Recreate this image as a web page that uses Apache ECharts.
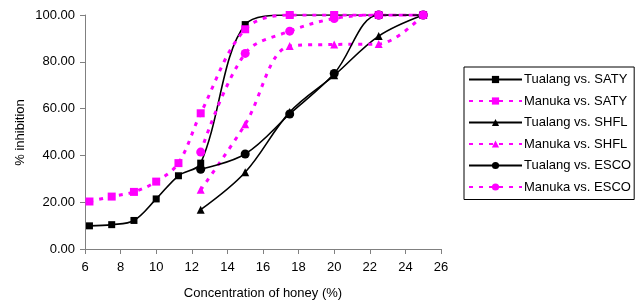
<!DOCTYPE html>
<html style="height: 100%">
<head>
    <meta charset="utf-8">
    <script src="https://cdn.jsdelivr.net/npm/echarts@6/dist/echarts.min.js"></script>
    <title>Honey inhibition</title>
</head>
<body style="height: 100%; margin: 0">
<div id="container" style="width: 641px; height: 304px"></div>
<script type="text/javascript">

    let conc = [6.25, 7.5, 8.75, 10, 11.25, 12.5, 15, 17.5, 20, 22.5, 25]
    let conc2 = [12.5, 15, 17.5, 20, 22.5, 25]

    let tualangSATY = [9.9, 10.4, 12.2, 21.4, 31.3, 36.7, 95.9, 100, 100, 100, 100]
    let manukaSATY = [20.3, 22.4, 24.4, 28.8, 36.7, 58.0, 93.9, 100, 100, 100, 100]
    let tualangSHFL = [16.8, 32.8, 58.5, 74.2, 91.0, 100]
    let manukaSHFL = [25.3, 53.3, 86.7, 87.4, 87.6, 100]
    let tualangESCO = [34.1, 40.6, 57.7, 75.0, 100, 100]
    let manukaESCO = [41.4, 83.6, 93.1, 98.5, 100, 100]

    let xTicks = [6, 8, 10, 12, 14, 16, 18, 20, 22, 24, 26]
    let yTicks = [0, 20, 40, 60, 80, 100]

    let font = 'Liberation Sans, Arial, sans-serif'
    let magenta = '#ff00ff'

    function pairs(xs, ys) {
        return xs.map((x, i) => [x, ys[i]])
    }

    function solid(name, xs, ys, symbol, size) {
        return {
            name: name, type: 'line', smooth: 0.35, data: pairs(xs, ys),
            symbol: symbol, symbolSize: size, showAllSymbol: true,
            lineStyle: {color: '#000', width: 1.6},
            itemStyle: {color: '#000'}
        }
    }

    function dotted(name, xs, ys, symbol, size) {
        return {
            name: name, type: 'line', smooth: 0.35, data: pairs(xs, ys),
            symbol: symbol, symbolSize: size, showAllSymbol: true,
            lineStyle: {color: magenta, width: 3, type: [4, 6]},
            itemStyle: {color: magenta}
        }
    }

    let dom = document.getElementById("container")
    let chart = echarts.init(dom)
    chart.setOption({
        animation: false,
        grid: {left: 85, right: 200, top: 15, bottom: 55},
        xAxis: {
            type: 'value', min: 6, max: 26, interval: 2,
            axisLine: {lineStyle: {color: '#808080', width: 1}},
            axisTick: {length: 5, lineStyle: {color: '#808080'}},
            splitLine: {show: false},
            axisLabel: {color: '#000', fontFamily: font, fontSize: 13, margin: 12,
                formatter: v => xTicks.includes(v) ? String(v) : ''}
        },
        yAxis: {
            type: 'value', min: 0, max: 100, interval: 20,
            axisLine: {show: true, lineStyle: {color: '#808080', width: 1}},
            axisTick: {show: true, length: 5, lineStyle: {color: '#808080'}},
            splitLine: {show: false},
            axisLabel: {color: '#000', fontFamily: font, fontSize: 13, margin: 10,
                formatter: v => yTicks.includes(v) ? v.toFixed(2) : ''}
        },
        legend: {
            orient: 'vertical', left: 464, top: 67,
            padding: [5, 3, 5, 4],
            borderColor: '#000', borderWidth: 1,
            itemWidth: 53, itemHeight: 9, itemGap: 6.5,
            textStyle: {color: '#000', fontFamily: font, fontSize: 13, lineHeight: 15, padding: [0, 0, 0, -3]},
            data: ['Tualang vs. SATY', 'Manuka vs. SATY', 'Tualang vs. SHFL',
                'Manuka vs. SHFL', 'Tualang vs. ESCO', 'Manuka vs. ESCO']
        },
        graphic: [
            {type: 'text', x: 263, y: 293,
                style: {text: 'Concentration of honey (%)', font: '13px ' + font, fill: '#000',
                    align: 'center', verticalAlign: 'middle'}},
            {type: 'text', x: 20, y: 132.5, rotation: Math.PI / 2,
                style: {text: '% inhibition', font: '13px ' + font, fill: '#000',
                    align: 'center', verticalAlign: 'middle'}}
        ],
        series: [
            solid('Tualang vs. SATY', conc, tualangSATY, 'rect', 7),
            dotted('Manuka vs. SATY', conc, manukaSATY, 'rect', 8),
            solid('Tualang vs. SHFL', conc2, tualangSHFL, 'triangle', 8),
            dotted('Manuka vs. SHFL', conc2, manukaSHFL, 'triangle', 8),
            solid('Tualang vs. ESCO', conc2, tualangESCO, 'circle', 9),
            dotted('Manuka vs. ESCO', conc2, manukaESCO, 'circle', 9)
        ]
    })

</script>
</body>
</html>
